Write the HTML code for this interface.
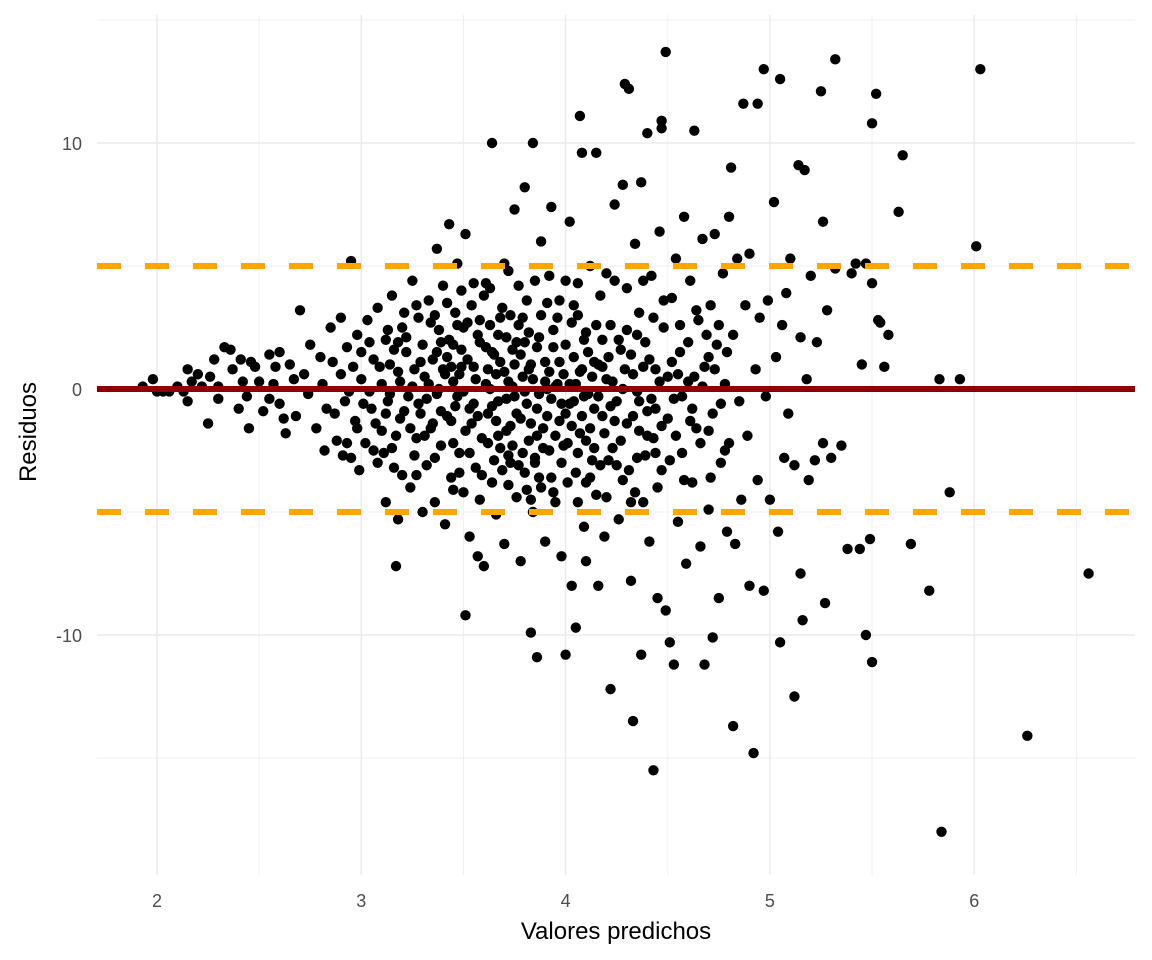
<!DOCTYPE html>
<html><head><meta charset="utf-8">
<style>
html,body{margin:0;padding:0;background:#fff;}
svg{display:block;font-family:"Liberation Sans",Arial,sans-serif;}
</style></head>
<body>
<svg id="chart" width="1152" height="960" viewBox="0 0 1152 960" xmlns="http://www.w3.org/2000/svg">
<g id="grid"></g>
<g id="pts"></g>
<g id="refs"></g>
<g id="axes"></g>
<text x="616" y="939" text-anchor="middle" font-size="24" fill="#000">Valores predichos</text>
<text transform="translate(36,432) rotate(-90)" text-anchor="middle" font-size="24" fill="#000">Residuos</text>
</svg>
<script>
const xTicks=[2,3,4,5,6];
const xMinor=[2.5,3.5,4.5,5.5,6.5];
const yTicks=[-10,0,10];
const yMinor=[-15,-5,5,15];
const hLines=[5,-5];
const points=[[1.93,0.1],[1.98,0.4],[2.0,-0.1],[2.03,-0.1],[2.06,-0.1],[2.1,0.1],[2.13,-0.1],[2.15,0.8],[2.15,-0.5],[2.17,0.3],[2.2,0.6],[2.22,0.1],[2.25,-1.4],[2.26,0.5],[2.28,1.2],[2.3,-0.4],[2.3,0.1],
[2.33,1.7],[2.36,1.6],[2.37,0.8],[2.4,-0.8],[2.41,1.2],[2.44,-0.3],[2.45,-1.6],[2.46,1.1],[2.48,0.9],[2.5,0.3],[2.52,-0.9],[2.55,1.4],[2.57,0.2],[2.6,1.5],[2.6,-0.6],[2.63,-1.8],[2.65,1.0],[2.67,0.4],[2.68,-1.1],[2.7,3.2],[2.72,0.6],[2.74,-0.2],[2.75,1.8],[2.55,-0.4],[2.42,0.3],[2.62,-1.2],[2.58,0.9],
[2.78,-1.6],[2.8,1.3],[2.81,0.2],[2.83,-0.8],[2.85,2.5],[2.86,1.1],[2.88,-2.1],[2.9,0.6],[2.9,2.9],[2.92,-0.5],[2.93,1.7],[2.95,-2.8],[2.96,0.9],[2.97,-1.3],[2.98,2.2],[2.99,-3.3],[3.0,0.4],[3.0,1.5],[2.87,-1.0],[2.94,-0.1],[2.82,-2.5],[2.95,5.2],[2.91,-2.7],
[3.02,-2.2],[3.03,2.8],[3.05,-0.8],[3.06,1.2],[3.08,-3.0],[3.08,3.3],[3.1,0.2],[3.1,-1.7],[3.12,2.0],[3.12,-4.6],[3.13,-0.5],[3.14,1.0],[3.15,-2.4],[3.15,3.8],[3.17,-7.2],[3.18,-5.3],[3.18,0.7],[3.19,-1.2],[3.2,2.5],[3.2,-3.5],[3.22,1.5],[3.23,-0.3],[3.24,-4.0],[3.25,4.4],[3.25,0.1],[3.27,-2.0],[3.28,2.9],[3.29,-1.0],[3.3,-5.0],[3.3,1.8],[3.04,-0.1],[3.16,-3.2],[3.21,3.1],[3.26,-2.7],
[3.31,0.5],[3.32,-3.1],[3.33,3.6],[3.34,-1.6],[3.35,1.2],[3.36,-4.6],[3.37,5.7],[3.37,-0.2],[3.38,2.4],[3.39,-2.3],[3.4,0.8],[3.4,4.2],[3.41,-5.5],[3.42,-1.1],[3.43,6.7],[3.43,2.0],[3.44,-3.6],[3.45,0.3],[3.46,3.1],[3.46,-0.7],[3.47,5.1],[3.48,-2.6],[3.49,1.6],[3.5,-4.2],[3.5,-0.1],[3.51,6.3],[3.51,-9.2],[3.52,2.7],[3.53,-6.0],[3.54,-1.4],[3.55,0.9],[3.55,4.3],[3.56,-3.2],[3.57,-6.8],[3.58,1.9],[3.59,-2.0],[3.6,3.8],[3.6,-7.2],[3.35,-1.4],[3.45,-4.1],[3.5,2.5],[3.38,0.0],[3.42,1.3],[3.55,-0.6],[3.48,0.6],[3.32,-0.4],[3.58,-4.5],
[3.61,0.2],[3.62,-1.0],[3.63,4.1],[3.64,10.0],[3.64,-3.8],[3.65,1.4],[3.66,-5.1],[3.67,2.2],[3.67,-0.5],[3.68,-2.4],[3.69,3.3],[3.7,-6.3],[3.7,0.7],[3.71,-1.7],[3.72,4.8],[3.73,-3.0],[3.74,1.6],[3.75,-0.3],[3.75,7.3],[3.76,-4.4],[3.77,2.6],[3.78,-7.0],[3.78,-1.2],[3.79,0.5],[3.8,8.2],[3.8,-3.4],[3.81,3.6],[3.82,-2.1],[3.83,-9.9],[3.83,1.0],[3.84,10.0],[3.84,-5.0],[3.85,4.4],[3.86,-0.8],[3.86,-10.9],[3.87,2.1],[3.88,-4.0],[3.88,6.0],[3.89,-1.6],[3.9,0.3],[3.9,-6.2],[3.65,-2.9],[3.72,-2.7],[3.8,-0.1],[3.68,2.9],[3.85,-2.8],[3.76,1.9],[3.63,0.0],[3.7,5.1],[3.73,-1.5],[3.87,-3.6],[3.82,0.8],
[3.91,3.5],[3.92,-2.5],[3.93,7.4],[3.93,-0.4],[3.94,1.7],[3.95,-4.6],[3.96,2.9],[3.97,-1.3],[3.98,-6.8],[3.99,0.6],[4.0,-10.8],[4.0,4.4],[4.01,-2.2],[4.02,6.8],[4.02,-0.6],[4.03,-8.0],[4.04,1.3],[4.05,-9.7],[4.05,-3.4],[4.06,3.0],[4.07,11.1],[4.07,-1.8],[4.08,9.6],[4.08,0.8],[4.09,-5.6],[4.1,2.3],[4.1,-7.0],[4.11,-0.2],[4.12,5.0],[4.13,-2.9],[4.14,1.1],[4.15,9.6],[4.15,-4.3],[4.16,-8.0],[4.17,3.8],[4.18,-1.1],[4.19,-6.0],[4.2,0.4],[4.2,4.7],[3.95,0.1],[4.0,-1.0],[4.05,0.2],[4.12,-3.6],[4.18,2.0],[3.98,-3.0],[4.03,2.7],[4.1,-2.1],[4.14,-0.8],
[4.22,-12.2],[4.22,2.6],[4.23,-2.4],[4.24,7.5],[4.25,-0.5],[4.26,-5.3],[4.27,1.6],[4.28,8.3],[4.28,-3.7],[4.29,12.4],[4.3,-1.4],[4.3,4.1],[4.31,12.2],[4.32,-7.8],[4.33,-13.5],[4.33,0.6],[4.34,5.9],[4.35,-2.8],[4.36,3.1],[4.37,-10.8],[4.37,8.4],[4.38,-4.6],[4.39,1.9],[4.4,10.4],[4.4,-0.9],[4.41,-6.2],[4.42,4.6],[4.43,-15.5],[4.43,-2.0],[4.44,0.8],[4.45,-8.5],[4.46,6.4],[4.47,10.9],[4.47,10.6],[4.47,-3.3],[4.48,2.5],[4.49,13.7],[4.49,-9.0],[4.5,-1.2],[4.25,-3.1],[4.35,-0.1],[4.45,-4.0],[4.3,2.4],[4.4,-1.9],
[4.51,-10.3],[4.52,3.7],[4.53,-11.2],[4.53,-0.4],[4.54,5.3],[4.55,-5.4],[4.56,1.5],[4.57,-2.6],[4.58,7.0],[4.59,-7.1],[4.6,0.3],[4.61,4.4],[4.62,-3.8],[4.63,10.5],[4.64,-1.6],[4.65,2.8],[4.66,-6.4],[4.67,6.1],[4.68,-11.2],[4.68,0.9],[4.7,-4.9],[4.71,3.4],[4.72,-10.1],[4.72,-1.0],[4.73,6.3],[4.74,1.8],[4.75,-8.5],[4.76,-3.0],[4.77,4.7],[4.78,0.2],[4.79,-5.8],[4.8,7.0],[4.8,-2.2],[4.55,0.6],[4.62,-0.8],[4.7,1.3],
[4.81,9.0],[4.82,-13.7],[4.82,2.2],[4.83,-6.3],[4.84,5.3],[4.85,-0.5],[4.86,-4.5],[4.87,11.6],[4.88,3.4],[4.89,-1.9],[4.9,-8.0],[4.9,5.5],[4.92,-14.8],[4.93,0.8],[4.94,11.6],[4.94,-3.7],[4.95,2.9],[4.97,13.0],[4.97,-8.2],[4.98,-0.3],[4.99,3.6],[5.0,-4.5],[5.02,7.6],[5.03,1.3],[5.04,-5.8],[5.05,12.6],[5.05,-10.3],[5.06,2.6],[5.07,-2.8],[5.08,3.9],[5.09,-1.0],[5.1,5.3],
[5.12,-12.5],[5.12,-3.1],[5.14,9.1],[5.15,-7.5],[5.15,2.1],[5.16,-9.4],[5.17,8.9],[5.18,0.4],[5.19,-3.7],[5.2,4.6],[5.22,-2.9],[5.23,1.9],[5.25,12.1],[5.26,6.8],[5.26,-2.2],[5.27,-8.7],[5.28,3.2],[5.3,-2.8],[5.32,13.4],[5.32,4.9],[5.35,-2.3],[5.38,-6.5],[5.4,4.7],[5.42,5.1],[5.45,1.0],[5.44,-6.5],[5.47,-10.0],[5.47,5.1],[5.49,-6.1],[5.5,-11.1],[5.5,10.8],[5.5,4.3],[5.52,12.0],[5.53,2.8],[5.54,2.7],
[5.56,0.9],[5.58,2.2],[5.63,7.2],[5.65,9.5],[5.69,-6.3],[5.78,-8.2],[5.83,0.4],[5.84,-18.0],[5.88,-4.2],[5.93,0.4],[6.01,5.8],[6.03,13.0],[6.26,-14.1],[6.56,-7.5],
[3.01,-0.6],[3.04,1.9],[3.07,-1.4],[3.09,0.9],[3.11,-2.6],[3.13,2.4],[3.14,-0.2],[3.16,1.6],[3.17,-1.9],[3.19,0.3],[3.21,-0.9],[3.22,2.1],[3.24,-1.6],[3.26,0.8],[3.27,3.4],[3.28,-0.6],[3.29,1.1],[3.31,-1.9],[3.33,0.2],[3.34,2.7],[3.36,-2.8],[3.37,1.5],[3.39,-0.9],[3.41,0.6],[3.42,3.5],[3.44,-1.3],[3.45,1.8],[3.47,-0.3],[3.48,-3.4],[3.49,0.9],[3.51,-1.7],[3.52,1.2],[3.53,-2.6],[3.54,3.4],[3.56,0.4],[3.57,-1.1],[3.58,2.8],[3.59,-3.5],[3.61,1.7],[3.62,-2.2],[3.63,2.6],[3.64,-0.7],[3.66,0.6],[3.67,-1.9],[3.68,1.1],[3.69,-3.3],[3.71,2.1],[3.71,-0.4],[3.72,0.3],[3.73,3.0],[3.74,-2.3],[3.75,1.0],[3.76,-1.0],[3.77,-3.1],[3.78,1.4],[3.79,-2.6],[3.79,2.9],[3.81,-0.6],[3.81,-4.1],[3.82,2.3],[3.83,-1.4],[3.84,0.4],[3.85,-3.0],[3.86,1.7],[3.87,-0.2],[3.88,3.0],[3.89,-2.4],[3.9,1.1],[3.91,-1.1],[3.92,0.7],[3.93,-3.6],[3.94,2.4],[3.95,-1.9],[3.96,0.2],[3.97,3.6],[3.98,-0.6],[3.99,-2.3],[4.0,1.8],[4.01,-3.8],[4.02,0.2],[4.03,-1.5],[4.04,3.4],[4.06,-2.6],[4.07,0.7],[4.08,-1.1],[4.09,2.0],[4.1,-3.8],[4.11,1.5],[4.12,-1.6],[4.13,0.5],[4.14,-2.4],[4.15,2.6],[4.16,-0.3],[4.17,-3.1],[4.18,0.9],[4.19,-1.8],[4.21,1.3],[4.21,-2.9],[4.23,0.3],[4.24,-1.3],[4.26,2.0],[4.27,-2.1],[4.29,0.8],[4.31,-3.3],[4.32,1.4],[4.33,-1.1],[4.34,-4.2],[4.35,2.2],[4.36,-0.5],[4.38,0.9],[4.39,-2.7],[4.41,1.2],[4.42,-0.4],[4.43,2.9],[4.44,-2.6],[4.46,0.3],[4.47,-1.5],[4.48,3.6],[4.5,0.5],[4.51,-2.9],[4.52,1.1],[4.54,-1.9],[4.56,2.6],[4.57,-0.3],[4.58,-3.7],[4.6,1.9],[4.61,-1.3],[4.63,0.5],[4.64,3.2],[4.66,-2.2],[4.67,0.1],[4.69,2.2],[4.7,-1.7],[4.71,-3.6],[4.73,0.8],[4.75,2.6],[4.76,-0.6],[4.78,-2.5],[4.79,1.5],[3.44,0.9],[3.53,-0.8],[3.62,0.8],[3.66,-1.3],[3.74,0.1],[3.8,1.9],[3.86,-1.9],[3.91,0.0],[3.97,1.1],[4.04,-0.5],[4.09,-0.3],[4.16,1.0],[4.22,-0.7],[4.28,0.0],[4.36,-1.7],[4.44,-0.8],[3.39,1.9],[3.47,2.6],[3.57,2.2],[3.64,1.5],[3.72,-3.9],[3.83,-4.5],[3.94,-4.2],[4.06,-4.6],[4.2,-4.4],[4.32,-4.6],[3.45,-2.2],[3.27,-3.5],[3.18,1.9],[3.12,-1.0],[3.06,-2.5],[2.98,-1.6],[2.93,-2.2],[3.36,3.0],[3.49,4.0],[3.61,4.3],[3.77,4.2],[3.92,4.6],[4.06,4.3],[4.24,4.4],[4.38,4.4]];

const NS="http://www.w3.org/2000/svg";
const PL=97,PR=1135,PT=15,PB=875;
function sx(v){return 157+(v-2)*204.3;}
function sy(v){return 389-v*24.6;}
function mk(tag,attrs,parent){const e=document.createElementNS(NS,tag);for(const k in attrs)e.setAttribute(k,attrs[k]);parent.appendChild(e);return e;}
const grid=document.getElementById('grid'),pts=document.getElementById('pts'),refs=document.getElementById('refs'),axes=document.getElementById('axes');
xMinor.forEach(v=>{const l=mk('line',{x1:sx(v),x2:sx(v),y1:PT,y2:PB,stroke:'#f0f0f0','stroke-width':1},grid);

});
yMinor.forEach(v=>{const l=mk('line',{x1:PL,x2:PR,y1:sy(v),y2:sy(v),stroke:'#f0f0f0','stroke-width':1},grid);

});
xTicks.forEach(v=>{const l=mk('line',{x1:sx(v),x2:sx(v),y1:PT,y2:PB,stroke:'#ebebeb','stroke-width':1.5},grid);


const t=mk('text',{x:sx(v),y:907,'text-anchor':'middle','font-size':18,fill:'#4d4d4d'},axes);t.textContent=v;

});
yTicks.forEach(v=>{const l=mk('line',{x1:PL,x2:PR,y1:sy(v),y2:sy(v),stroke:'#ebebeb','stroke-width':1.5},grid);


const t=mk('text',{x:82,y:sy(v)+7,'text-anchor':'end','font-size':18,fill:'#4d4d4d'},axes);t.textContent=v;

});
points.forEach(p=>{const c=mk('circle',{cx:sx(p[0]),cy:sy(p[1]),r:5.2,fill:'#000'},pts);

});
const z=mk('line',{x1:PL,x2:PR,y1:sy(0),y2:sy(0),stroke:'#8b0000','stroke-width':6},refs);


hLines.forEach(v=>{const l=mk('line',{x1:PL,x2:PR,y1:sy(v),y2:sy(v),stroke:'#ffa500','stroke-width':6,'stroke-dasharray':'24 24'},refs);

});
</script>
</body></html>
